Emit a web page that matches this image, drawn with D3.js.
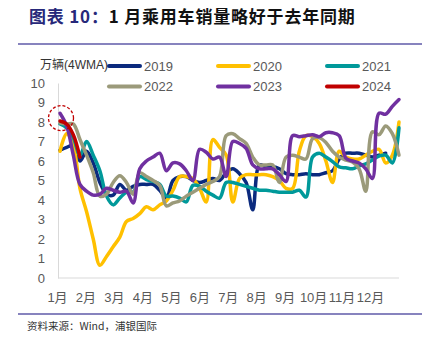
<!DOCTYPE html>
<html><head><meta charset="utf-8">
<script src="https://cdn.jsdelivr.net/npm/d3@7/dist/d3.min.js"></script>
<style>
body{margin:0;background:#fff;}
svg{display:block;font-family:"Liberation Sans","Noto Sans CJK SC",sans-serif;}
</style></head>
<body><svg id="c" width="432" height="343"></svg>
<script>
const months = ["1月","2月","3月","4月","5月","6月","7月","8月","9月","10月","11月","12月"];
const yTicks = [0,1,2,3,4,5,6,7,8,9,10];
const seriesNames = ["2019","2020","2021","2022","2023","2024"];
const seriesColors = ["#0B2A7E","#FFC000","#00999A","#9B9A7A","#7030A0","#C00000"];

const s2019 = [6.55,6.7,6.8,6.0,6.5,5.9,4.9,4.3,4.25,4.8,4.5,4.7,4.8,4.8,4.8,4.5,4.1,5.0,5.2,5.2,5.0,4.9,5.0,5.1,5.0,5.4,5.6,5.35,4.9,3.5,5.8,5.7,5.7,5.6,5.35,5.3,5.3,5.35,5.3,5.3,5.4,5.5,6.1,6.4,6.4,6.4,6.3,6.2,6.3,6.4];
const s2020 = [6.5,7.4,6.8,4.6,3.4,2.0,0.65,1.1,1.6,2.1,2.9,3.05,3.3,3.65,3.5,3.75,3.95,4.5,5.2,5.2,5.1,4.6,3.9,7.1,6.7,6.3,3.9,5.1,5.3,5.3,5.3,5.3,5.2,5.0,4.6,4.6,6.5,7.3,7.25,6.9,6.0,4.9,6.5,6.2,6.1,6.1,6.3,6.5,6.6,5.9,6.3,8.0];
const s2021 = [7.9,7.7,7.2,6.3,7.0,6.3,5.5,4.2,3.75,4.1,4.4,4.4,5.2,5.05,4.95,4.8,4.2,4.2,4.1,3.9,4.75,4.7,4.45,4.25,4.1,4.9,4.9,4.8,4.7,4.6,4.5,4.5,4.45,4.4,4.4,4.4,4.5,4.15,6.2,6.4,6.2,5.97,5.7,5.65,5.6,5.75,5.85,6.05,6.25,6.3,5.9,7.7];
const s2022 = [7.95,7.9,7.9,7.1,6.3,5.4,4.2,4.3,4.9,5.25,4.9,4.3,5.4,5.2,5.0,4.75,3.7,3.85,3.95,4.2,4.4,4.6,4.8,4.95,5.2,7.3,7.4,7.15,6.9,6.2,5.8,5.8,5.8,4.9,6.2,6.3,6.2,6.1,7.15,7.2,6.95,6.5,6.2,6.05,5.95,5.6,4.45,7.5,7.35,7.8,7.4,6.3];
const s2023 = [8.45,7.8,6.3,4.8,4.45,4.25,4.3,4.6,4.5,4.4,4.45,3.85,5.6,6.0,6.2,6.4,5.5,5.9,5.85,5.5,5.0,6.6,6.45,6.1,6.2,5.2,7.0,6.9,6.65,5.8,5.6,5.6,5.6,5.3,4.95,7.3,7.25,7.3,7.35,7.25,7.45,7.45,7.3,6.15,6.0,5.9,5.6,5.1,8.45,8.4,8.8,9.15];
const s2024 = [8.05,7.9,7.35,6.2];
const allSeries = [s2019,s2020,s2021,s2022,s2023,s2024];

const svg = d3.select("#c");
const x = d3.scaleLinear().domain([1,52]).range([60,399]);
const y = d3.scaleLinear().domain([0,10]).range([278,83]);
const mx = d3.scaleLinear().domain([0,12]).range([57,398.5]);

// title
const t = svg.append("text").attr("x",29).attr("y",22.5).attr("font-size",17).attr("font-weight","bold")
  .attr("letter-spacing",0.8).attr("font-family","'Noto Sans CJK SC',sans-serif");
t.append("tspan").attr("fill","#27287A").text("图表 10：");
t.append("tspan").attr("fill","#111").text("1 月乘用车销量略好于去年同期");
svg.append("line").attr("x1",18).attr("x2",422).attr("y1",44).attr("y2",44).attr("stroke","#5F5AA8").attr("stroke-width",1.5);
svg.append("line").attr("x1",18).attr("x2",422).attr("y1",314).attr("y2",314).attr("stroke","#5F5AA8").attr("stroke-width",1.5);
svg.append("text").attr("x",27).attr("y",330).attr("font-size",10.5).attr("fill","#333")
  .attr("font-family","'Noto Sans CJK SC',sans-serif").text("资料来源：Wind，浦银国际");

// axes
const ya = svg.append("g").attr("transform","translate(58,0)")
  .call(d3.axisLeft(y).tickValues(yTicks).tickSize(0).tickPadding(13));
ya.select(".domain").attr("stroke","#D9D9D9");
ya.selectAll("text").attr("font-size",13).attr("fill","#595959").attr("font-family","'Liberation Sans',sans-serif");

svg.append("line").attr("x1",58).attr("x2",399).attr("y1",y(0)).attr("y2",y(0)).attr("stroke","#D9D9D9");
const xa = svg.append("g").attr("transform",`translate(0,${y(0)})`)
  .call(d3.axisBottom(mx).tickValues(d3.range(12)).tickFormat(i=>months[i]).tickSize(0).tickPadding(15));
xa.select(".domain").remove();
xa.selectAll("text").attr("font-size",13).attr("fill","#595959").attr("font-family","'Liberation Sans','Noto Sans CJK SC',sans-serif");

svg.append("text").attr("x",40).attr("y",68.5).attr("font-size",12).attr("fill","#333").text("万辆(4WMA)");

// lines
const line = d3.line().x((d,i)=>x(i+1)).y(d=>y(d)).curve(d3.curveCatmullRom.alpha(0.5));
allSeries.forEach((s,k)=>{
  svg.append("path").datum(s).attr("d",line).attr("fill","none")
    .attr("stroke",seriesColors[k]).attr("stroke-width",3.5).attr("stroke-linejoin","round").attr("stroke-linecap","round");
});

// annotation circle
svg.append("circle").attr("cx",x(1)+1).attr("cy",y(8.2)).attr("r",12.5).attr("fill","none")
  .attr("stroke","#C00000").attr("stroke-width",1.3).attr("stroke-dasharray","3,2");

// legend
const legX = [109,218,327], legY = [66,86.5];
seriesNames.forEach((n,k)=>{
  const lx = legX[k%3], ly = legY[Math.floor(k/3)];
  svg.append("line").attr("x1",lx).attr("x2",lx+31).attr("y1",ly).attr("y2",ly)
    .attr("stroke",seriesColors[k]).attr("stroke-width",4).attr("stroke-linecap","round");
  svg.append("text").attr("x",lx+35).attr("y",ly+4.7).attr("font-size",13).attr("fill","#595959").text(n);
});
</script></body></html>
